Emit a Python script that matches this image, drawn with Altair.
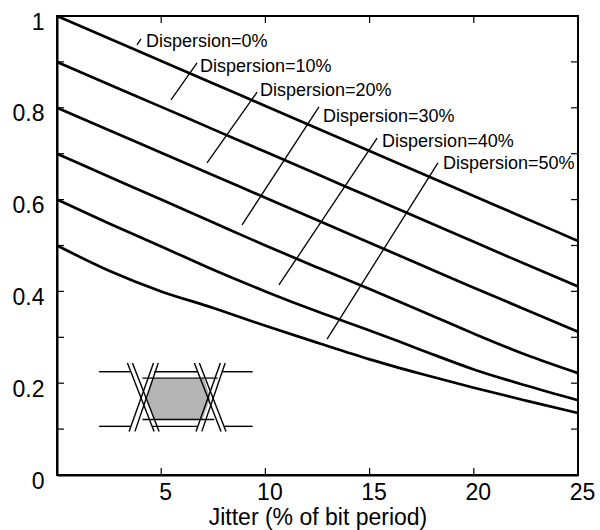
import altair as alt
import pandas as pd

# ---------------- data ----------------
jitter = [0, 2.5, 5, 7.5, 10, 12.5, 15, 17.5, 20, 22.5, 25]
disp_0 = [1.000, 0.951, 0.902, 0.853, 0.804, 0.755, 0.706, 0.657, 0.608, 0.559, 0.510]
disp_10 = [0.900, 0.851, 0.802, 0.753, 0.704, 0.655, 0.606, 0.557, 0.508, 0.459, 0.411]
disp_20 = [0.800, 0.751, 0.702, 0.653, 0.604, 0.555, 0.506, 0.457, 0.408, 0.360, 0.312]
disp_30 = [0.700, 0.650, 0.600, 0.550, 0.500, 0.452, 0.405, 0.357, 0.308, 0.262, 0.222]
disp_40 = [0.600, 0.548, 0.498, 0.447, 0.400, 0.356, 0.315, 0.272, 0.230, 0.195, 0.163]
disp_50 = [0.500, 0.445, 0.400, 0.364, 0.325, 0.288, 0.252, 0.220, 0.190, 0.162, 0.135]
series_names = ["Dispersion=0%", "Dispersion=10%", "Dispersion=20%",
                "Dispersion=30%", "Dispersion=40%", "Dispersion=50%"]

label_x = [4.27, 6.86, 9.74, 12.76, 15.60, 18.52]
label_y = [0.943, 0.889, 0.837, 0.780, 0.725, 0.678]
lead_x0 = [3.84, 5.47, 7.20, 8.88, 10.65, 12.96]
lead_y0 = [0.937, 0.817, 0.680, 0.545, 0.414, 0.296]
lead_x1 = [4.03, 6.72, 9.60, 12.57, 15.36, 18.28]
lead_y1 = [0.950, 0.898, 0.834, 0.802, 0.734, 0.680]

x_tick_values = [5, 10, 15, 20, 25]
y_tick_values = [0, 0.2, 0.4, 0.6, 0.8, 1]
x_minor = [5, 10, 15, 20]
y_minor = [0.1, 0.2, 0.3, 0.4, 0.5, 0.6, 0.7, 0.8, 0.9]

# eye-diagram inset (in axis units)
eye_x_start = [2.02, 2.02, 7.95, 8.03, 4.66, 4.58, 4.10, 4.10,
               3.38, 3.62, 3.46, 3.74, 6.59, 6.83, 6.67, 6.95]
eye_y_start = [0.225, 0.106, 0.225, 0.106, 0.225, 0.106, 0.211, 0.121,
               0.244, 0.244, 0.095, 0.095, 0.244, 0.244, 0.095, 0.095]
eye_x_end = [3.50, 3.55, 9.39, 9.39, 6.75, 6.75, 7.71, 7.55,
             4.66, 4.90, 4.63, 4.86, 7.87, 8.11, 7.84, 8.07]
eye_y_end = [0.225, 0.106, 0.225, 0.106, 0.225, 0.106, 0.211, 0.121,
             0.095, 0.095, 0.244, 0.244, 0.095, 0.095, 0.244, 0.244]
hex_x = [4.31, 4.58, 4.66, 6.99, 7.07, 7.36]
hex_top = [0.167, 0.209, 0.209, 0.209, 0.209, 0.167]
hex_bot = [0.167, 0.132, 0.122, 0.122, 0.132, 0.167]

# ---------------- layout ----------------
W, H = 521, 459
X_MAX, Y_MAX = 25, 1
TICK_PX = 7
FONT = "Liberation Sans"

all_series = [disp_0, disp_10, disp_20, disp_30, disp_40, disp_50]
rows = []
for name, vals in zip(series_names, all_series):
    for xv, yv in zip(jitter, vals):
        rows.append({"series": name, "x": xv, "y": yv})
curves_df = pd.DataFrame(rows)

labels_df = pd.DataFrame({"x": label_x, "y": label_y, "text": series_names})
leaders_df = pd.DataFrame({"x": lead_x0, "y": lead_y0, "x2": lead_x1, "y2": lead_y1})
eye_df = pd.DataFrame({"x": eye_x_start, "y": eye_y_start, "x2": eye_x_end, "y2": eye_y_end})
hex_df = pd.DataFrame({"x": hex_x, "y": hex_top, "y2": hex_bot})

tx = TICK_PX * X_MAX / W
ty = TICK_PX * Y_MAX / H
tick_rows = []
for v in x_minor:
    tick_rows.append({"x": v, "x2": v, "y": 0, "y2": ty})
    tick_rows.append({"x": v, "x2": v, "y": Y_MAX, "y2": Y_MAX - ty})
for v in y_minor:
    tick_rows.append({"x": 0, "x2": tx, "y": v, "y2": v})
    tick_rows.append({"x": X_MAX, "x2": X_MAX - tx, "y": v, "y2": v})
ticks_df = pd.DataFrame(tick_rows)

x_scale = alt.Scale(domain=[0, X_MAX], nice=False, zero=False)
y_scale = alt.Scale(domain=[0, Y_MAX], nice=False, zero=False)
x_axis = alt.Axis(values=x_tick_values, title="Jitter (% of bit period)", ticks=False,
                  labelFlush=False, labelPadding=6, labelOffset=4, titlePadding=2,
                  grid=False)
y_axis = alt.Axis(values=y_tick_values, title=None, ticks=False, labelFlush=False,
                  labelPadding=13, labelOffset=6, grid=False,
                  labelExpr="datum.value == 0 ? '0' : datum.value == 1 ? '1' : format(datum.value, '.1f')")


def X(f="x"):
    return alt.X(f + ":Q", scale=x_scale, axis=x_axis)


def Y(f="y"):
    return alt.Y(f + ":Q", scale=y_scale, axis=y_axis)


curves = alt.Chart(curves_df).mark_line(color="black", strokeWidth=2.7, interpolate="monotone").encode(
    x=X(), y=Y(), detail="series:N")

leaders = alt.Chart(leaders_df).mark_rule(color="black", strokeWidth=1.3).encode(
    x=X(), y=Y(), x2="x2:Q", y2="y2:Q")

labels = alt.Chart(labels_df).mark_text(align="left", baseline="middle", fontSize=18,
                                        font=FONT, color="black").encode(
    x=X(), y=Y(), text="text:N")

hexagon = alt.Chart(hex_df).mark_area(color="#b4b4b4", opacity=1).encode(
    x=X(), y=Y(), y2="y2:Q")

eye = alt.Chart(eye_df).mark_rule(color="black", strokeWidth=1.4).encode(
    x=X(), y=Y(), x2="x2:Q", y2="y2:Q")

ticks = alt.Chart(ticks_df).mark_rule(color="black", strokeWidth=1.2).encode(
    x=X(), y=Y(), x2="x2:Q", y2="y2:Q")

chart = alt.layer(hexagon, eye, ticks, leaders, curves, labels).properties(
    width=W, height=H,
    autosize=alt.AutoSizeParams(type="none"),
    padding={"left": 57, "top": 16, "right": 22, "bottom": 55},
    background="white",
).configure_view(
    stroke="black", strokeWidth=2
).configure_axis(
    domainColor="black", domainWidth=2, labelColor="black", labelFontSize=23,
    labelFont=FONT, titleFont=FONT, titleFontSize=23, titleFontWeight="normal",
    titleColor="black"
)

chart.save("out.html", embed_options={"renderer": "svg", "actions": False})
